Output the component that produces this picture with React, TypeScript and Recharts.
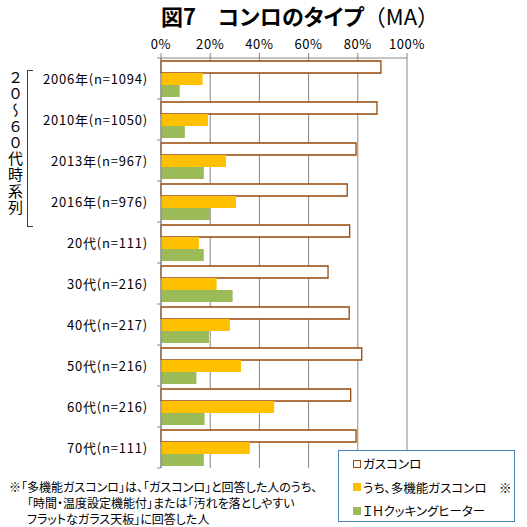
import { BarChart, Bar, XAxis, YAxis, CartesianGrid } from 'recharts'

const categories = [
  '2006年(n=1094)',
  '2010年(n=1050)',
  '2013年(n=967)',
  '2016年(n=976)',
  '20代(n=111)',
  '30代(n=216)',
  '40代(n=217)',
  '50代(n=216)',
  '60代(n=216)',
  '70代(n=111)',
]
const gasValues = [89.4, 87.8, 79.3, 75.7, 76.7, 67.9, 76.5, 81.6, 77.1, 79.3]
const multiValues = [16.9, 19.1, 26.4, 30.5, 15.4, 22.6, 28.0, 32.5, 46.0, 36.1]
const ihValues = [7.6, 9.7, 17.4, 19.9, 17.4, 29.1, 19.5, 14.4, 17.7, 17.4]
const xTicks = [0, 20, 40, 60, 80, 100]

const FONT = '"Noto Sans CJK JP", sans-serif'
const GRID = '#868686'
const W = 527
const H = 527
const X_HEIGHT = 30
// plot area: top 58, bottom 468, left 161, right 406
const MARGIN = { top: 58 - X_HEIGHT, right: 120, bottom: 59, left: 0 }
const Y_WIDTH = 161
const band = (H - 58 - MARGIN.bottom) / categories.length

const data = categories.map((name, i) => ({
  name,
  gas: gasValues[i],
  multi: multiValues[i],
  ih: ihValues[i],
}))

const legendItems = [
  { label: 'ガスコンロ', fill: '#fff', stroke: '#984807' },
  { label: 'うち、多機能ガスコンロ　※', fill: '#FFC000', stroke: '#FFC000' },
  { label: 'ＩＨクッキングヒーター', fill: '#9BBB59', stroke: '#9BBB59' },
]

function CategoryTick(props: any) {
  const { x, y, payload, index } = props
  const last = index === categories.length - 1
  return (
    <g>
      <text
        x={x - 13}
        y={y}
        textAnchor="end"
        dominantBaseline="central"
        fontSize={13}
        fill="#000"
        letterSpacing={0.8}
        style={{ fontFeatureSettings: '"palt"' }}
      >
        {payload.value}
      </text>
      <line x1={x - 4} x2={x} y1={y - band / 2} y2={y - band / 2} stroke={GRID} />
      {last && <line x1={x - 4} x2={x} y1={y + band / 2} y2={y + band / 2} stroke={GRID} />}
    </g>
  )
}

function LegendBox() {
  return (
    <div
      style={{
        position: 'absolute',
        left: 338,
        top: 450,
        border: '1px solid #4F81BD',
        width: 177,
        height: 72,
        boxSizing: 'border-box',
        padding: '1px 0 0 14px',
        fontSize: 12.5,
        fontFeatureSettings: '"palt"',
        background: '#fff',
      }}
    >
      {legendItems.map((it) => (
        <div key={it.label} style={{ display: 'flex', alignItems: 'center', height: 23.5, whiteSpace: 'nowrap' }}>
          <span
            style={{
              display: 'inline-block',
              width: 6,
              height: 6,
              background: it.fill,
              border: `1px solid ${it.stroke}`,
              marginRight: 2,
            }}
          />
          <span>{it.label}</span>
        </div>
      ))}
    </div>
  )
}

export default function App() {
  return (
    <div style={{ position: 'absolute', left: 0, top: 0, width: W, height: H, fontFamily: FONT, background: '#fff' }}>
      <BarChart width={W} height={H} data={data} layout="vertical" margin={MARGIN} barSize={12} barGap={0}>
        <CartesianGrid horizontal={false} stroke={GRID} />
        <XAxis
          type="number"
          orientation="top"
          height={X_HEIGHT}
          domain={[0, 100]}
          ticks={xTicks}
          tickFormatter={(v) => `${v}%`}
          tickSize={5}
          tickMargin={4}
          stroke={GRID}
          tick={{ fill: '#000', fontSize: 13, fontFamily: FONT, letterSpacing: 0.6 }}
        />
        <YAxis
          type="category"
          dataKey="name"
          width={Y_WIDTH}
          tickSize={0}
          tickMargin={0}
          tickLine={false}
          stroke={GRID}
          tick={<CategoryTick />}
          interval={0}
        />
        <Bar dataKey="gas" name="ガスコンロ" fill="#fff" stroke="#984807" strokeWidth={1.3} isAnimationActive={false} />
        <Bar dataKey="multi" name="うち、多機能ガスコンロ" fill="#FFC000" isAnimationActive={false} />
        <Bar dataKey="ih" name="ＩＨクッキングヒーター" fill="#9BBB59" isAnimationActive={false} />
      </BarChart>

      <div
        style={{
          position: 'absolute',
          left: 0,
          width: 600,
          top: 0,
          textAlign: 'center',
          fontSize: 22,
          lineHeight: '30px',
          whiteSpace: 'nowrap',
        }}
      >
        <b style={{ fontFeatureSettings: '"palt"' }}>図7　コンロのタイプ</b>
        <span>（MA）</span>
      </div>

      <LegendBox />

      <div
        style={{
          position: 'absolute',
          left: 27,
          top: 70,
          width: 5,
          height: 155,
          borderLeft: '1px solid #404040',
          borderTop: '1px solid #404040',
          borderBottom: '1px solid #404040',
        }}
      />
      <div
        style={{
          position: 'absolute',
          left: 7,
          top: 70,
          writingMode: 'vertical-rl',
          fontSize: 15,
          lineHeight: '16px',
          letterSpacing: 1.2,
        }}
      >
        ２０～６０代時系列
      </div>

      <div
        style={{
          position: 'absolute',
          left: 9,
          top: 479,
          fontSize: 12,
          lineHeight: '16px',
          fontFeatureSettings: '"palt"',
          whiteSpace: 'nowrap',
        }}
      >
        <div>※「多機能ガスコンロ」は、「ガスコンロ」と回答した人のうち、</div>
        <div style={{ paddingLeft: 18 }}>「時間・温度設定機能付」または「汚れを落としやすい</div>
        <div style={{ paddingLeft: 18 }}>フラットなガラス天板」に回答した人</div>
      </div>
    </div>
  )
}
